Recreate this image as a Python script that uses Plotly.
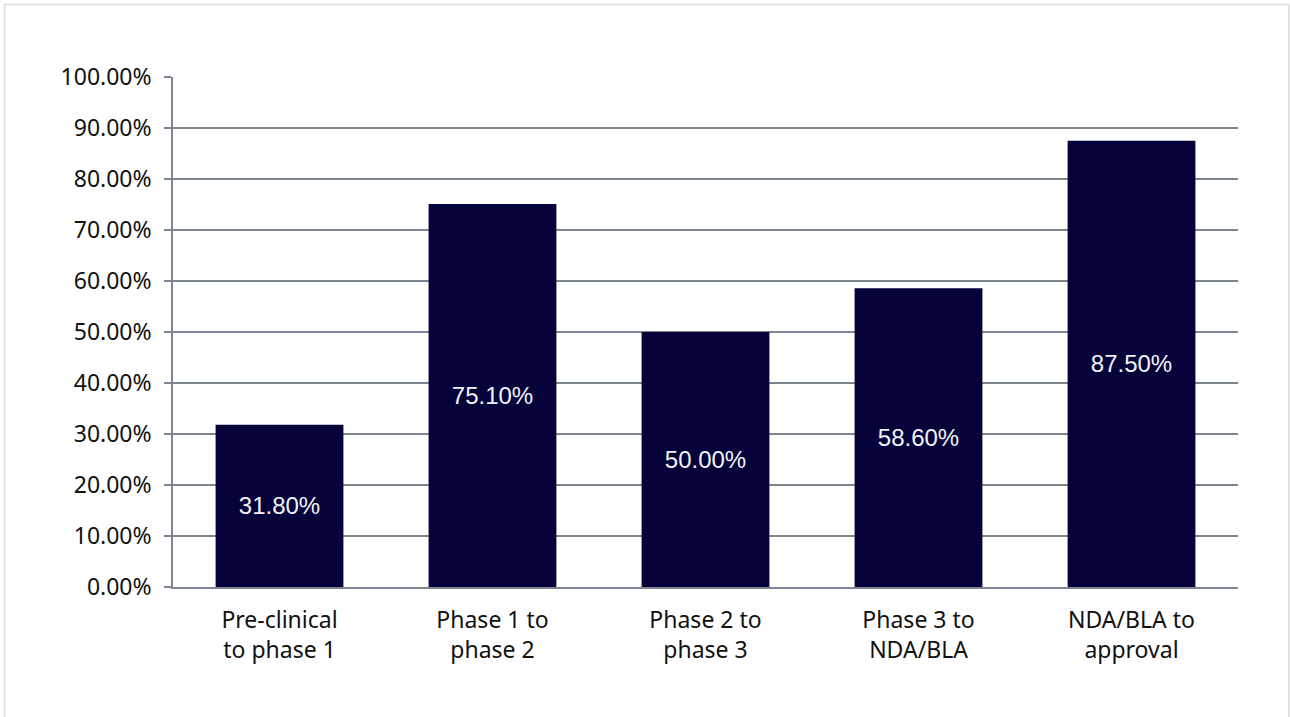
import plotly.graph_objects as go

# Transition stages and their success rates (fraction)
stages = [
    "Pre-clinical<br>to phase 1",
    "Phase 1 to<br>phase 2",
    "Phase 2 to<br>phase 3",
    "Phase 3 to<br>NDA/BLA",
    "NDA/BLA to<br>approval",
]
success_rate = [0.318, 0.751, 0.500, 0.586, 0.875]
y_ticks = [i / 10 for i in range(11)]

BAR_COLOR = "#05033a"
AXIS_COLOR = "#7d8690"

fig = go.Figure(
    go.Bar(
        x=stages,
        y=success_rate,
        marker=dict(color=BAR_COLOR, line=dict(width=0)),
        text=[f"{v:.2%}" for v in success_rate],
        textposition="inside",
        insidetextanchor="middle",
        textangle=0,
        textfont=dict(family="Liberation Sans, Arial, sans-serif", size=24, color="#f2f2f7"),
        hoverinfo="skip",
    )
)

fig.update_layout(
    width=1290,
    height=717,
    margin=dict(l=173, r=52, t=77, b=130),
    paper_bgcolor="white",
    plot_bgcolor="white",
    bargap=0.4,
    showlegend=False,
    font=dict(family="Noto Sans, sans-serif", size=23, color="#111111"),
    xaxis=dict(
        showline=True,
        linecolor=AXIS_COLOR,
        linewidth=1.5,
        ticks="",
        tickfont=dict(size=23),
        showgrid=False,
        ticklabelstandoff=12,
    ),
    yaxis=dict(
        range=[0, 1],
        tickvals=y_ticks,
        tickformat=".2%",
        showline=True,
        linecolor=AXIS_COLOR,
        linewidth=1.5,
        ticks="outside",
        ticklen=7,
        tickcolor=AXIS_COLOR,
        tickwidth=1.5,
        showgrid=True,
        gridcolor=AXIS_COLOR,
        gridwidth=1.5,
        zeroline=False,
        tickfont=dict(size=23),
        ticklabelstandoff=8,
    ),
    shapes=[
        dict(
            type="rect",
            xref="paper",
            yref="paper",
            x0=-0.1582,
            x1=1.0477,
            y0=-0.3,
            y1=1.142,
            line=dict(color="#d9dde2", width=1.5),
            fillcolor="rgba(0,0,0,0)",
            layer="below",
        )
    ],
)

fig.write_html("out.html")
